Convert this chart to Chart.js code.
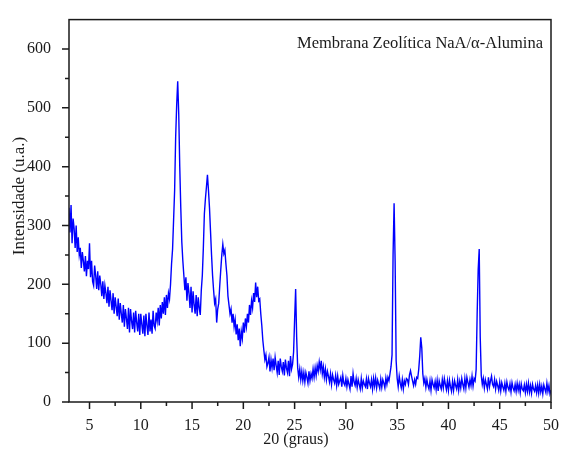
<!DOCTYPE html>
<html>
<head>
<meta charset="utf-8">
<script src="https://cdn.jsdelivr.net/npm/chart.js@4"></script>
<style>
  html, body { margin: 0; padding: 0; background: #fff; }
  #wrap { width: 565px; height: 452px; }
</style>
</head>
<body>
<div id="wrap"><canvas id="xrd" width="565" height="452"></canvas></div>
<script>
// ── Data ──────────────────────────────────────────────────────────────────────
// 2θ sampled every 0.1° from 3.0° to 50.0°
const angleStart = 3.0;
const angleStep  = 0.1;

// intensity (u.a.), one row per degree
const intensity03to10 = [
  330, 288, 335, 270, 312, 295, 262, 300, 255, 280,
  250, 262, 228, 255, 240, 222, 248, 214, 240, 226,
  270, 212, 240, 205, 198, 232, 215, 192, 222, 190,
  215, 200, 180, 205, 175, 198, 185, 168, 196, 162,
  190, 172, 156, 185, 150, 178, 162, 146, 176, 140,
  168, 150, 135, 165, 128, 158, 142, 124, 160, 118,
  158, 138, 124, 152, 118, 155, 135, 120, 150, 114,
];
const intensity10to20 = [
  150, 132, 116, 147, 112, 150, 130, 114, 152, 120,
  140, 116, 155, 130, 125, 152, 138, 160, 130, 165,
  142, 170, 150, 178, 148, 182, 160, 185, 175, 200,
  235, 260, 310, 360, 450, 505, 545, 490, 400, 330,
  272, 240, 215, 190, 212, 172, 202, 185, 160, 196,
  152, 188, 165, 150, 182, 146, 178, 160, 148, 190,
  215, 262, 320, 345, 365, 386, 360, 330, 290, 250,
  215, 190, 168, 175, 135, 158, 168, 198, 225, 250,
  268, 252, 258, 235, 215, 180, 165, 150, 158, 135,
  150, 128, 140, 115, 132, 105, 125,  95, 120, 108,
];
const intensity20to30 = [
  135, 118, 142, 128, 150, 135, 165, 148, 172, 160,
  185, 170, 203, 178, 196, 172, 175, 150, 130, 105,
   88,  72,  80,  60,  66,  76,  52,  72,  58,  74,
   54,  76,  62,  50,  70,  46,  74,  60,  52,  68,
   45,  72,  58,  50,  70,  44,  78,  56,  64,  85,
  140, 192, 110,  58,  42,  56,  38,  52,  36,  50,
   34,  50,  42,  32,  52,  36,  48,  40,  56,  42,
   58,  45,  62,  52,  68,  55,  70,  48,  60,  42,
   56,  38,  52,  44,  34,  48,  30,  46,  38,  32,
   45,  28,  44,  30,  36,  42,  26,  45,  32,  28,
];
const intensity30to40 = [
   40,  26,  38,  30,  22,  44,  26,  48,  34,  28,
   40,  25,  38,  30,  22,  40,  24,  36,  30,  26,
   39,  22,  40,  32,  26,  38,  22,  40,  27,  41,
   24,  37,  30,  23,  39,  25,  38,  32,  24,  41,
   30,  42,  36,  48,  60,  80, 250, 338, 240,  70,
   40,  26,  44,  32,  24,  38,  22,  36,  30,  40,
   38,  30,  46,  53,  44,  36,  28,  38,  30,  42,
   40,  55,  78, 110,  92,  48,  32,  40,  25,  38,
   28,  22,  36,  20,  38,  30,  24,  35,  21,  37,
   19,  36,  28,  22,  38,  24,  40,  30,  21,  36,
];
const intensity40to50 = [
   20,  37,  26,  18,  35,  20,  36,  28,  22,  38,
   20,  35,  24,  40,  30,  22,  40,  24,  42,  33,
   25,  38,  28,  44,  27,  40,  36,  55, 150, 225,
  260, 110,  45,  30,  40,  24,  38,  30,  22,  42,
   26,  36,  44,  30,  26,  38,  22,  35,  28,  20,
   34,  19,  33,  26,  20,  32,  18,  34,  25,  20,
   31,  17,  33,  24,  19,  30,  18,  32,  20,  30,
   16,  31,  22,  19,  29,  16,  30,  18,  32,  17,
   28,  15,  30,  22,  18,  28,  16,  29,  15,  30,
   17,  27,  14,  29,  22,  16,  32,  18,  28,  14,
   20,
];

const xMajorTicks = [5, 10, 15, 20, 25, 30, 35, 40, 45, 50];
const xMinorTicks = [7.5, 12.5, 17.5, 22.5, 27.5, 32.5, 37.5, 42.5, 47.5];
const yMajorTicks = [0, 100, 200, 300, 400, 500, 600];
const yMinorTicks = [50, 150, 250, 350, 450, 550];

const chartLabel = 'Membrana Zeolítica NaA/α-Alumina';
const xTitle     = '20 (graus)';
const yTitle     = 'Intensidade (u.a.)';

// ── Build points ──────────────────────────────────────────────────────────────
const intensity = [
  ...intensity03to10, ...intensity10to20, ...intensity20to30,
  ...intensity30to40, ...intensity40to50,
];
const points = intensity.map((v, i) => ({
  x: Math.round((angleStart + i * angleStep) * 10) / 10,
  y: v,
}));

const SERIF = "'Liberation Serif', 'Times New Roman', serif";
const INK   = '#1a1a1a';

// ── Frame, ticks and texts ────────────────────────────────────────────────────
const frameTicks = {
  id: 'frameTicks',
  afterDraw(chart) {
    const { ctx, chartArea: a, scales: { x, y } } = chart;
    ctx.save();
    ctx.strokeStyle = INK;
    ctx.lineWidth = 1.5;
    ctx.strokeRect(a.left, a.top, a.right - a.left, a.bottom - a.top);

    ctx.beginPath();
    xMajorTicks.forEach(v => { const px = x.getPixelForValue(v); ctx.moveTo(px, a.bottom); ctx.lineTo(px, a.bottom + 7); });
    xMinorTicks.forEach(v => { const px = x.getPixelForValue(v); ctx.moveTo(px, a.bottom); ctx.lineTo(px, a.bottom + 4); });
    yMajorTicks.forEach(v => { const py = y.getPixelForValue(v); ctx.moveTo(a.left, py); ctx.lineTo(a.left - 7, py); });
    yMinorTicks.forEach(v => { const py = y.getPixelForValue(v); ctx.moveTo(a.left, py); ctx.lineTo(a.left - 4, py); });
    ctx.stroke();

    ctx.fillStyle = INK;
    ctx.font = '16.5px ' + SERIF;
    ctx.textAlign = 'right';
    ctx.textBaseline = 'alphabetic';
    ctx.fillText(chartLabel, a.right - 8, a.top + 28);

    ctx.font = '16px ' + SERIF;
    ctx.textAlign = 'center';
    ctx.fillText(xTitle, 296, 444);

    ctx.translate(24, 196);
    ctx.rotate(-Math.PI / 2);
    ctx.font = '17px ' + SERIF;
    ctx.fillText(yTitle, 0, 0);
    ctx.restore();
  }
};

// ── Chart ─────────────────────────────────────────────────────────────────────
new Chart(document.getElementById('xrd').getContext('2d'), {
  type: 'line',
  data: {
    datasets: [{
      data: points,
      borderColor: '#0000ff',
      borderWidth: 1.4,
      pointRadius: 0,
      tension: 0,
    }]
  },
  options: {
    responsive: false,
    animation: false,
    devicePixelRatio: 1,
    layout: { padding: { top: 17, right: 8, left: 0, bottom: 0 } },
    plugins: { legend: { display: false }, tooltip: { enabled: false } },
    scales: {
      x: {
        type: 'linear',
        min: 3,
        max: 50,
        afterBuildTicks: s => { s.ticks = xMajorTicks.map(v => ({ value: v })); },
        afterFit: s => { s.height = 50; },
        grid: { display: false },
        border: { display: false },
        ticks: { color: INK, font: { family: SERIF, size: 16 }, padding: 6, maxRotation: 0 },
      },
      y: {
        min: 0,
        max: 650,
        afterBuildTicks: s => { s.ticks = yMajorTicks.map(v => ({ value: v })); },
        afterFit: s => { s.width = 69; },
        grid: { display: false },
        border: { display: false },
        ticks: { color: INK, font: { family: SERIF, size: 16 }, padding: 10 },
      }
    }
  },
  plugins: [frameTicks]
});
</script>
</body>
</html>
